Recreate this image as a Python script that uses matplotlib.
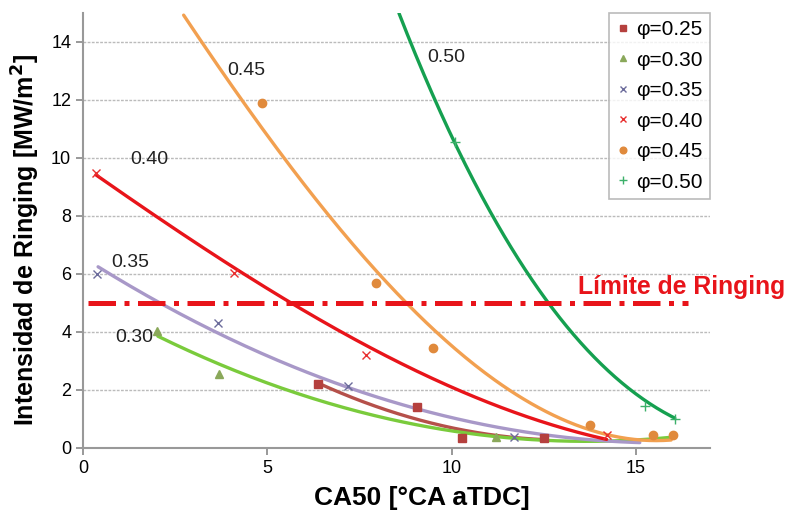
import numpy as np
import matplotlib
matplotlib.use("Agg")
import matplotlib.pyplot as plt

# ---- scatter data ----
x25 = [6.38, 9.05, 10.27, 12.5]
y25 = [2.2, 1.41, 0.34, 0.35]
x30 = [2.0, 3.68, 11.2]
y30 = [4.03, 2.55, 0.38]
x35 = [0.38, 3.65, 7.2, 11.7]
y35 = [6.0, 4.3, 2.14, 0.38]
x40 = [0.35, 4.1, 7.67, 14.2]
y40 = [9.48, 6.03, 3.2, 0.45]
x45 = [4.86, 7.95, 9.49, 13.76, 15.46, 16.0]
y45 = [11.9, 5.69, 3.45, 0.79, 0.45, 0.45]
x50 = [10.08, 15.24, 16.05]
y50 = [10.55, 1.45, 1.0]

# ---- trend-line key points ----
c25x = [6.38, 8.84, 10.0, 12.5]
c25y = [2.22, 1.14, 0.62, 0.30]
c30x = [2.03, 5.86, 7.2, 10.0, 15.95]
c30y = [3.83, 1.9, 1.38, 0.52, 0.38]
c35x = [0.41, 2.08, 3.65, 5.86, 7.2, 10.0, 15.1]
c35y = [6.17, 5.0, 4.07, 2.8, 2.1, 0.86, 0.24]
c40x = [0.35, 2.08, 4.1, 5.86, 10.1, 14.2]
c40y = [9.4, 8.0, 6.0, 5.0, 2.0, 0.3]
c45x = [2.73, 4.24, 5.38, 6.86, 8.65, 9.65, 11.5, 15.95]
c45y = [15.0, 12.0, 10.0, 8.0, 5.0, 4.0, 2.0, 0.28]
c50x = [8.57, 10.08, 12.7, 13.16, 14.86, 16.05]
c50y = [15.0, 10.5, 5.0, 4.0, 2.0, 1.03]

limit_y = 5.0
limit_x = [0.13, 16.4]

labels = ["\u03c6=0.25", "\u03c6=0.30", "\u03c6=0.35", "\u03c6=0.40", "\u03c6=0.45", "\u03c6=0.50"]
curve_labels = ["0.45", "0.50", "0.40", "0.35", "0.30"]
curve_label_pos = [(4.43, 13.0), (9.84, 13.45), (1.81, 9.93), (1.27, 6.4), (1.4, 3.8)]

plt.rcParams['font.family'] = ['Liberation Sans', 'DejaVu Sans']

fig = plt.figure(figsize=(7.94, 5.19), dpi=100)
ax = fig.add_axes([0.1045, 0.137, 0.7895, 0.838])

def smooth(cx, cy, deg):
    p = np.polyfit(cx, cy, deg)
    xs = np.linspace(min(cx), max(cx), 200)
    return xs, np.polyval(p, xs)

curves = [
    (c25x, c25y, '#B5504A', 2),
    (c30x, c30y, '#7ACB3C', 2),
    (c35x, c35y, '#A898C8', 2),
    (c40x, c40y, '#E8141A', 3),
    (c45x, c45y, '#F2A050', 3),
    (c50x, c50y, '#15A050', 3),
]
for cx, cy, col, d in curves:
    xs, ys = smooth(cx, cy, d)
    ax.plot(xs, ys, color=col, lw=2.4, zorder=3, solid_capstyle='round')

ax.plot(x25, y25, 's', color='#B5403E', ms=6, ls='none', label=labels[0], zorder=4)
ax.plot(x30, y30, '^', color='#8AA85A', ms=6, ls='none', label=labels[1], zorder=4)
ax.plot(x35, y35, 'x', color='#6C6C9C', ms=6, mew=1.0, ls='none', label=labels[2], zorder=4)
ax.plot(x40, y40, 'x', color='#E83030', ms=6, mew=1.0, ls='none', label=labels[3], zorder=4)
ax.plot(x45, y45, 'o', color='#E08A3C', ms=6, ls='none', label=labels[4], zorder=4)
ax.plot(x50, y50, '+', color='#3CB06A', ms=7, mew=1.0, ls='none', label=labels[5], zorder=4)

ax.plot(limit_x, [limit_y, limit_y], color='#E8141A', lw=3.6,
        dashes=(5.5, 1.7, 1.0, 1.7), zorder=5)
ax.text(13.43, 5.55, "Límite de Ringing", color='#E8141A', fontsize=17.8,
        fontweight='bold', ha='left', va='center', clip_on=False, zorder=6)

for t, (tx, ty) in zip(curve_labels, curve_label_pos):
    ax.text(tx, ty, t, fontsize=14, ha='center', va='center', color='#222222', zorder=6)

ax.set_xlim(0, 17)
ax.set_ylim(0, 15)
ax.set_xticks([0, 5, 10, 15])
ax.set_yticks([0, 2, 4, 6, 8, 10, 12, 14])
ax.tick_params(axis='both', labelsize=13, color='#888888', length=5, width=1.2)
ax.yaxis.grid(True, color='#BBBBBB', ls=(0, (2, 1)), lw=1)
ax.set_axisbelow(True)
for s in ['top', 'right']:
    ax.spines[s].set_visible(False)
for s in ['left', 'bottom']:
    ax.spines[s].set_color('#999999')
    ax.spines[s].set_linewidth(1.5)

ax.set_xlabel("CA50 [°CA aTDC]", fontsize=19, fontweight='bold')
ax.set_ylabel("Intensidad de Ringing [MW/m$^\\mathbf{2}$]", fontsize=18, fontweight='bold')
ax.xaxis.set_label_coords(0.54, -0.088)
ax.yaxis.set_label_coords(-0.066, 0.478)

leg = ax.legend(loc='upper right', bbox_to_anchor=(1.0, 1.0), fontsize=15,
                frameon=True, fancybox=False, handlelength=0.6, handletextpad=0.35,
                borderpad=0.35, labelspacing=0.55, markerscale=0.8, borderaxespad=0)
leg.get_frame().set_edgecolor('#AAAAAA')
leg.get_frame().set_linewidth(1.2)
leg.set_zorder(10)

fig.savefig("out.png", dpi=100)
